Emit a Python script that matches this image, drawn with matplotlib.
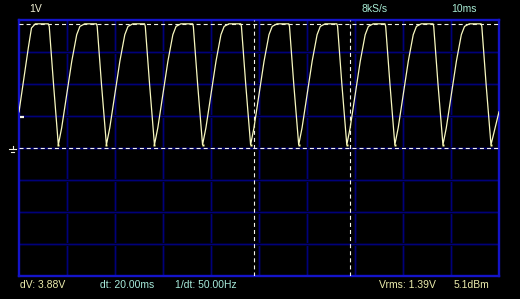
import matplotlib
matplotlib.use('Agg')
import matplotlib.pyplot as plt
from matplotlib.lines import Line2D

# ---------------- data ----------------
time_ms = [0.00, 1.94, 2.60, 3.40, 6.10, 6.30, 7.20,
           8.19, 8.89, 9.94, 10.99, 12.02, 12.69, 13.69, 16.14, 16.29, 17.19,
           18.21, 18.91, 19.96, 21.01, 22.04, 22.71, 23.71, 26.16, 26.31, 27.21,
           28.22, 28.92, 29.97, 31.02, 32.05, 32.72, 33.72, 36.17, 36.32, 37.22,
           38.24, 38.94, 39.99, 41.04, 42.07, 42.74, 43.74, 46.19, 46.34, 47.24,
           48.25, 48.95, 50.00, 51.05, 52.08, 52.75, 53.75, 56.20, 56.35, 57.25,
           58.27, 58.97, 60.02, 61.07, 62.10, 62.77, 63.77, 66.22, 66.37, 67.27,
           68.29, 68.99, 70.04, 71.09, 72.12, 72.79, 73.79, 76.24, 76.39, 77.29,
           78.30, 79.00, 80.05, 81.10, 82.13, 82.80, 83.80, 86.25, 86.40, 87.30,
           88.32, 89.02, 90.07, 91.12, 92.15, 92.82, 93.82, 96.27, 96.42, 97.32,
           98.33, 100.00]
volts = [1.13, 3.13, 3.75, 3.88, 3.88, 3.80, 1.98,
         0.10, 0.63, 1.67, 2.71, 3.54, 3.80, 3.88, 3.88, 3.80, 1.98,
         0.10, 0.63, 1.67, 2.71, 3.54, 3.80, 3.88, 3.88, 3.80, 1.98,
         0.10, 0.63, 1.67, 2.71, 3.54, 3.80, 3.88, 3.88, 3.80, 1.98,
         0.10, 0.63, 1.67, 2.71, 3.54, 3.80, 3.88, 3.88, 3.80, 1.98,
         0.10, 0.63, 1.67, 2.71, 3.54, 3.80, 3.88, 3.88, 3.80, 1.98,
         0.10, 0.63, 1.67, 2.71, 3.54, 3.80, 3.88, 3.88, 3.80, 1.98,
         0.10, 0.63, 1.67, 2.71, 3.54, 3.80, 3.88, 3.88, 3.80, 1.98,
         0.10, 0.63, 1.67, 2.71, 3.54, 3.80, 3.88, 3.88, 3.80, 1.98,
         0.10, 0.63, 1.67, 2.71, 3.54, 3.80, 3.88, 3.88, 3.80, 1.98,
         0.10, 1.13]
trough_t = [8.19, 18.21, 28.22, 38.24, 48.25, 58.27, 68.29, 78.30, 88.32, 98.33]
trough_v = [0.10] * 10

time_divs = [0, 10, 20, 30, 40, 50, 60, 70, 80, 90, 100]
volt_divs = [-4, -3, -2, -1, 0, 1, 2, 3, 4]
cursor_volts = [0.0, 3.875]
cursor_times = [48.9, 68.9]
trigger_level = 0.97

top_labels = ["1V", "8kS/s", "10ms"]
bottom_labels = ["dV: 3.88V", "dt: 20.00ms", "1/dt: 50.00Hz", "Vrms: 1.39V", "5.1dBm"]

# ---------------- figure ----------------
plt.rcParams['lines.scale_dashes'] = False
W, H = 520, 299
fig = plt.figure(figsize=(W / 100, H / 100), dpi=100, facecolor='black')
ax = fig.add_axes([19 / W, 23 / H, 480 / W, 256 / H])
ax.set_facecolor('black')
ax.set_xlim(0, 100)
ax.set_ylim(-4, 4)
ax.set_xticks([])
ax.set_yticks([])

# grid with a faint glow
for t in time_divs[1:-1]:
    ax.axvline(t, color='#00002c', lw=2.2, zorder=1)
    ax.axvline(t, color='#00007a', lw=0.75, zorder=1)
for v in volt_divs[1:-1]:
    ax.axhline(v, color='#00002c', lw=2.2, zorder=1)
    ax.axhline(v, color='#00007a', lw=0.75, zorder=1)

for s in ax.spines.values():
    s.set_color('#1414c8')
    s.set_linewidth(1.7)

# cursors
dash = (0, (2.9, 2.2))
for v in cursor_volts:
    ax.axhline(v, color='#f4f4ee', lw=0.8, linestyle=dash, zorder=3)
for t in cursor_times:
    ax.axvline(t, color='#f4f4ee', lw=0.8, linestyle=dash, zorder=3)

# trace
ax.plot(time_ms, volts, color='#f8f8c0', lw=0.9, zorder=4, solid_joinstyle='round')
ax.plot(trough_t, trough_v, linestyle='none', marker='s', ms=1.6,
        mfc='#ffffa8', mec='none', zorder=5)

# trigger level marker
ax.plot([0.15, 1.0], [trigger_level, trigger_level], color='#f4f4e8', lw=1.6,
        solid_capstyle='butt', zorder=5, clip_on=False)

# ground symbol (pixel coords)
def px(x, y):
    return x / W, 1 - y / H
for (x0, y0, x1, y1) in [(12.5, 145.5, 12.5, 149), (9, 149, 16, 149), (11, 152, 14, 152)]:
    a, b = px(x0, y0)
    c, d = px(x1, y1)
    fig.add_artist(Line2D([a, c], [b, d], color='#f0f0e0', lw=0.8,
                          transform=fig.transFigure))

# text
fam = ['Liberation Sans', 'DejaVu Sans']
fs = 7.5
yellow = '#ececac'
cyan = '#a8ecdc'
top_pos = [(29, 9.5, '#f0f0d4'), (361, 9.5, '#a8ecd4'), (451, 9.5, '#a8ecd4')]
for lab, (x, y, c) in zip(top_labels, top_pos):
    fig.text(x / W, 1 - y / H, lab, color=c, fontsize=fs, family=fam,
             ha='left', va='center')
bot_pos = [(20, 285, yellow), (100, 285, cyan), (175, 285, cyan),
           (379, 285, yellow), (454, 285, yellow)]
for lab, (x, y, c) in zip(bottom_labels, bot_pos):
    fig.text(x / W, 1 - y / H, lab, color=c, fontsize=fs, family=fam,
             ha='left', va='center')

fig.savefig('out.png', dpi=100, facecolor='black')
